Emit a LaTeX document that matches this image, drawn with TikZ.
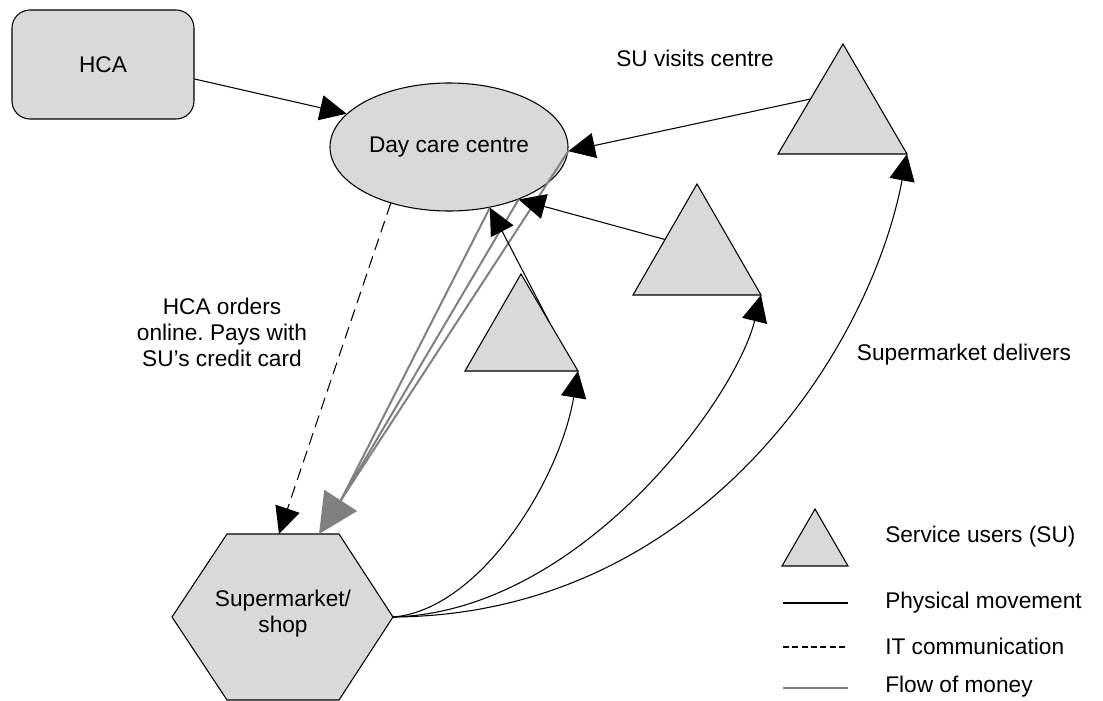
\documentclass[tikz,border=0pt]{standalone}
\usepackage{fontspec}
\setmainfont{Liberation Sans}
\usetikzlibrary{arrows.meta,shapes.geometric,calc}
\definecolor{shapegray}{HTML}{D9D9D9}
\definecolor{moneygray}{HTML}{808080}
\frenchspacing
\begin{document}
\begin{tikzpicture}[x=0.75pt,y=-0.75pt,
  every node/.style={font=\fontsize{17}{19.5}\selectfont},
  shapefill/.style={draw=black, line width=0.8pt, fill=shapegray},
  phys/.style={draw=black, line width=0.8pt, -{Triangle[length=20pt,width=19pt]}},
  itcom/.style={draw=black, line width=0.8pt, dash pattern=on 9pt off 5pt, -{Triangle[length=20pt,width=19pt]}},
  money/.style={draw=moneygray, line width=1.5pt},
  lbl/.style={inner sep=0pt, align=center}]
\useasboundingbox (0,0) rectangle (1103,700);

% main shapes
\node[rectangle, rounded corners=13.5pt, shapefill, minimum width=136.5pt, minimum height=81.75pt] (hca) at (103,64.5) {HCA};
\node[ellipse, shapefill, minimum width=178.5pt, minimum height=96pt, inner sep=0pt] (dcc) at (449,147) {Day care centre};

% hexagon (supermarket)
\coordinate (h1) at (172,617);
\coordinate (h2) at (227,534);
\coordinate (h3) at (339,534);
\coordinate (h4) at (393,617);
\coordinate (h5) at (339,700);
\coordinate (h6) at (227,700);
\draw[shapefill] (h1) -- (h2) -- (h3) -- (h4) -- (h5) -- (h6) -- cycle;
\node[lbl] (shop) at (283,614) {Supermarket/\\shop};
\coordinate (shopit) at (279,534);
\coordinate (shopmoney) at (319,534);

% triangles (service users)
\coordinate (t1a) at (521,274); \coordinate (t1l) at (465,371); \coordinate (t1r) at (578,371);
\coordinate (t2a) at (697,184); \coordinate (t2l) at (633,295); \coordinate (t2r) at (761,295);
\coordinate (t3a) at (843,44);  \coordinate (t3l) at (778,154); \coordinate (t3r) at (907,154);
\draw[shapefill] (t1a) -- (t1l) -- (t1r) -- cycle;
\draw[shapefill] (t2a) -- (t2l) -- (t2r) -- cycle;
\draw[shapefill] (t3a) -- (t3l) -- (t3r) -- cycle;

% money flow
\coordinate (mb) at (341,500);
\draw[money] (dcc.-56) -- (mb);
\draw[money] (dcc.-37) -- (mb);
\draw[money] (dcc.-2) -- (mb);
\draw[money, -{Triangle[length=30pt,width=29pt]}] (mb) -- (shopmoney);

% physical movement
\draw[phys] (hca.-9) -- (dcc.162);
\draw[phys] ($(t3a)!0.5!(t3l)$) -- (dcc.-2);
\draw[phys] ($(t2a)!0.5!(t2l)$) -- (dcc.-37);
\draw[phys] ($(t1a)!0.5!(t1r)$) -- (dcc.-56);
\draw[phys] (h4) .. controls (480,610) and (560,480) .. (t1r);
\draw[phys] (h4) .. controls (580,612) and (735,400) .. (t2r);
\draw[phys] (h4) .. controls (700,615) and (870,350) .. (t3r);

% IT communication
\draw[itcom] (dcc.-136.5) -- (shopit);

% labels
\node[lbl] (suvisits) at (695,58) {SU visits centre};
\node[lbl] (hcaorders) at (222,332) {HCA orders\\online. Pays with\\SU’s credit card};
\node[lbl] (delivers) at (964,355) {Supermarket delivers};

% legend
\coordinate (la) at (815,509); \coordinate (ll) at (782,566); \coordinate (lr) at (848,566);
\draw[shapefill] (la) -- (ll) -- (lr) -- cycle;
\node[lbl, anchor=west] (lgsu) at (885,537) {Service users (SU)};
\coordinate (lp1) at (783,603); \coordinate (lp2) at (848,603);
\draw[line width=0.8pt] (lp1) -- (lp2);
\node[lbl, anchor=west] (lgphys) at (885,603) {Physical movement};
\coordinate (li1) at (783,647); \coordinate (li2) at (848,647);
\draw[line width=0.8pt, dash pattern=on 4.5pt off 2.5pt] (li1) -- (li2);
\node[lbl, anchor=west] (lgit) at (885,646) {IT communication};
\coordinate (lm1) at (783,688); \coordinate (lm2) at (848,688);
\draw[draw=moneygray, line width=2pt] (lm1) -- (lm2);
\node[lbl, anchor=west] (lgmoney) at (885,687) {Flow of money};
\end{tikzpicture}
\end{document}
